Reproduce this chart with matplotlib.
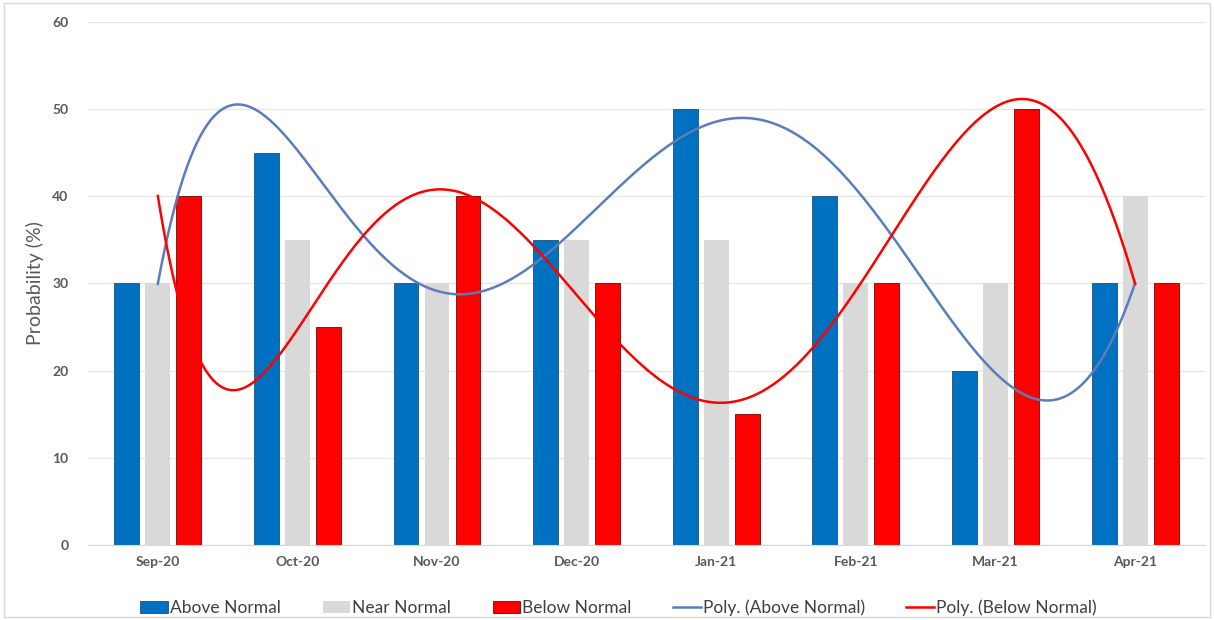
import numpy as np
import matplotlib
matplotlib.use("Agg")
import matplotlib.pyplot as plt
from matplotlib.patches import Rectangle

months = ["Sep-20", "Oct-20", "Nov-20", "Dec-20", "Jan-21", "Feb-21", "Mar-21", "Apr-21"]
above = [30, 45, 30, 35, 50, 40, 20, 30]
near = [30, 35, 30, 35, 35, 30, 30, 40]
below = [40, 25, 40, 30, 15, 30, 50, 30]

plt.rcParams["font.family"] = ["Lato", "DejaVu Sans"]

fig = plt.figure(figsize=(12.14, 6.2), dpi=100)
ax = fig.add_axes([0.0725, 0.121, 0.92, 0.8435])
fig.patches.append(Rectangle((0.003, 0.005), 0.994, 0.99, transform=fig.transFigure,
                             fill=False, edgecolor="#d9d9d9", linewidth=1))

x = np.arange(1, len(months) + 1)
w = 0.178
step = 0.222
b1 = ax.bar(x - step, above, w, color="#0070C0", edgecolor="#1f4e79", linewidth=0.6,
            label="Above Normal", zorder=2)
b2 = ax.bar(x, near, w, color="#D9D9D9", linewidth=0, label="Near Normal", zorder=2)
b3 = ax.bar(x + step, below, w, color="#FF0000", edgecolor="#7f0000", linewidth=0.6,
            label="Below Normal", zorder=2)

# polynomial trendlines (order 6), like Excel
xs = np.linspace(1, len(months), 400)
pa = np.polyfit(x, above, 6)
pb = np.polyfit(x, below, 6)
l1, = ax.plot(xs, np.polyval(pa, xs), color="#5B7DB8", linewidth=1.8,
              label="Poly. (Above Normal)", zorder=3)
l2, = ax.plot(xs, np.polyval(pb, xs), color="#FF0000", linewidth=1.8,
              label="Poly. (Below Normal)", zorder=3)

ax.set_xlim(0.5, len(months) + 0.5)
ax.set_ylim(0, 60)
ax.set_yticks(range(0, 61, 10))
ax.set_xticks(x)
ax.set_xticklabels(months)
ax.yaxis.grid(True, color="#e6e6e6", linewidth=1, zorder=0)
ax.set_axisbelow(True)
for s in ["top", "right", "left"]:
    ax.spines[s].set_visible(False)
ax.spines["bottom"].set_color("#d9d9d9")
ax.tick_params(length=0, labelsize=10, labelcolor="#595959", pad=8)
for t in ax.get_xticklabels() + ax.get_yticklabels():
    t.set_fontweight("bold")
ax.tick_params(axis="y", pad=14)
ax.set_ylabel("Probability (%)", fontsize=14, color="#595959", labelpad=6)

ax.legend([b1, b2, b3, l1, l2],
          ["Above Normal", "Near Normal", "Below Normal", "Poly. (Above Normal)", "Poly. (Below Normal)"],
          loc="upper center", bbox_to_anchor=(0.475, -0.075), ncol=5, frameon=False,
          fontsize=12.5, labelcolor="#404040", handlelength=1.6, handletextpad=0.1,
          columnspacing=2.4)

fig.savefig("out.png", dpi=100)
